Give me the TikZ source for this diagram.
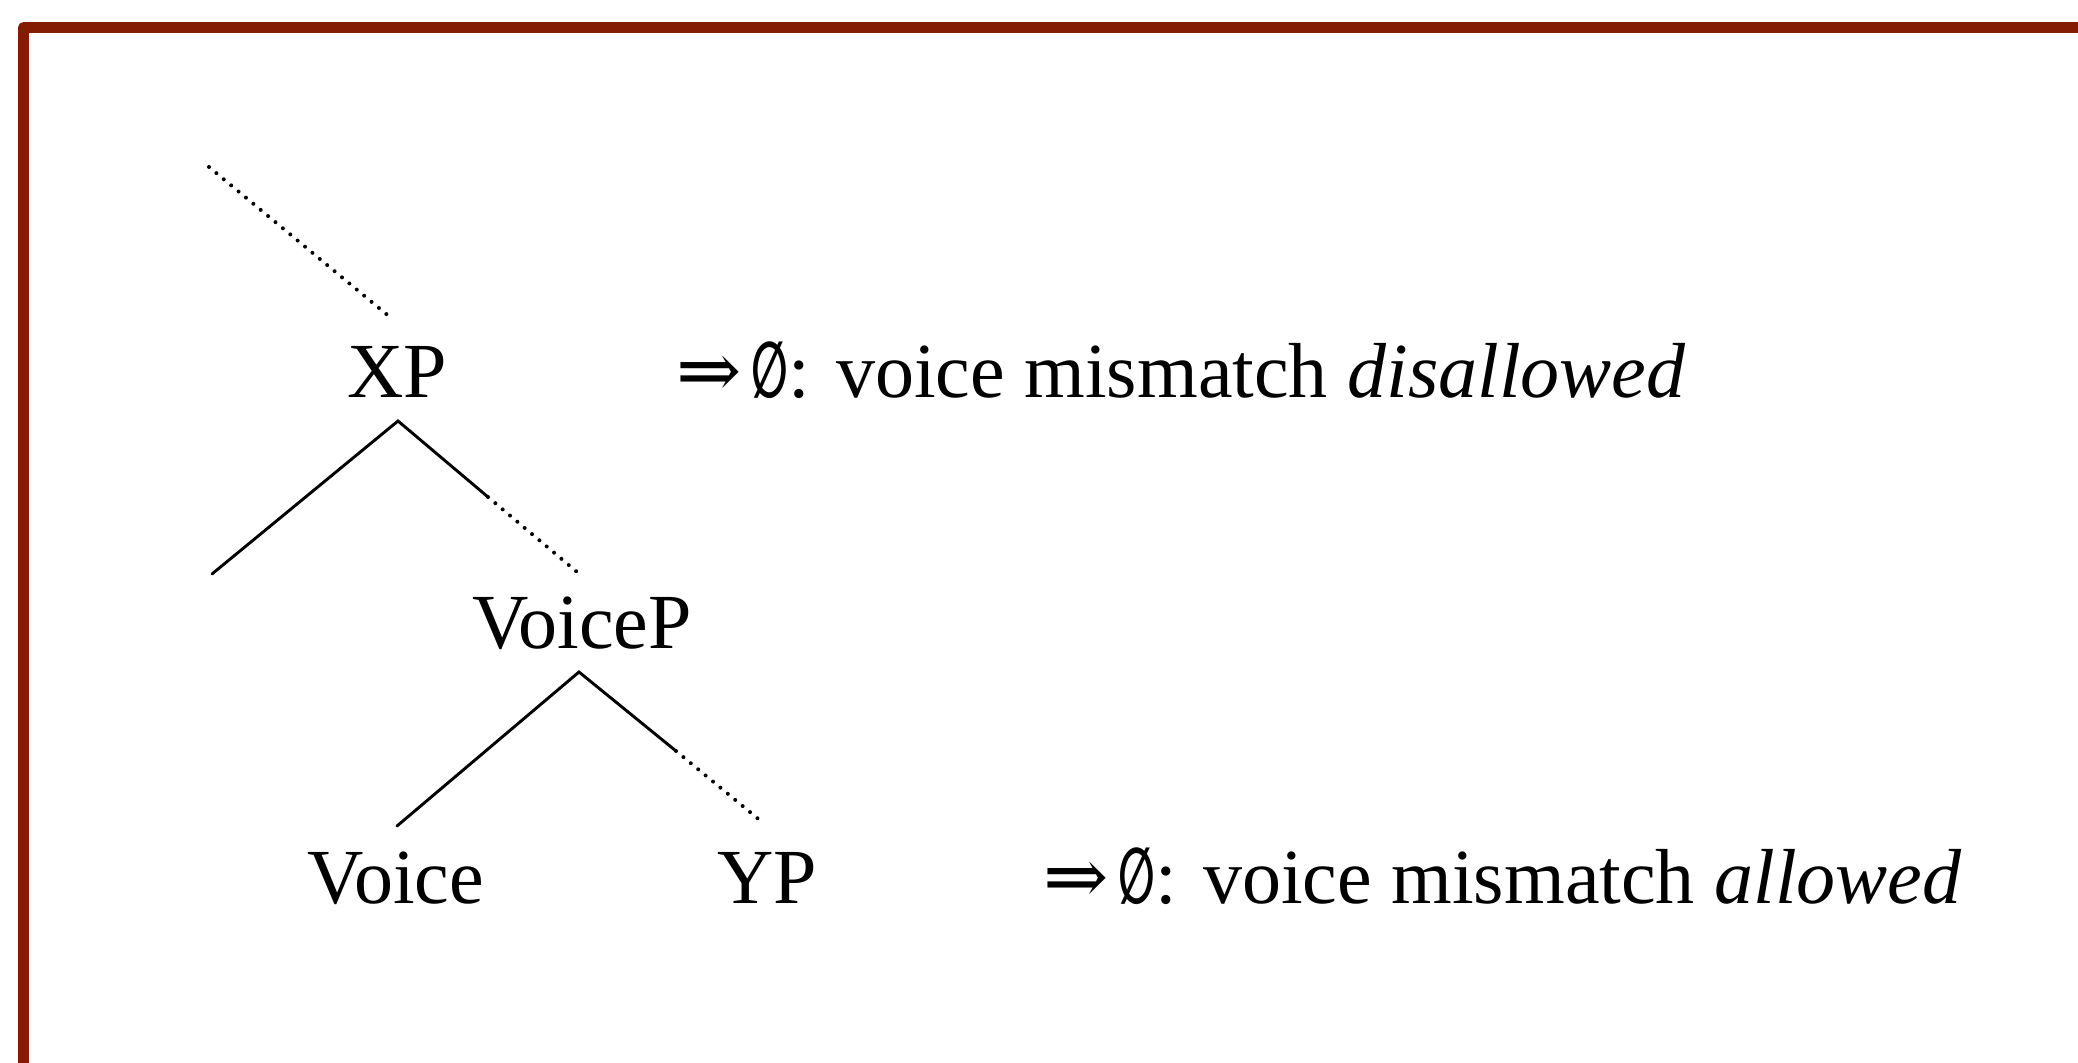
\documentclass[tikz,border=0pt]{standalone}
\usepackage{fontspec}
\usepackage{graphicx}
\setmainfont{Liberation Serif}
\newfontfamily\symfont{DejaVu Serif}
\newfontfamily\symsans{DejaVu Sans}
\newcommand{\narrowempty}{\scalebox{0.55}[1.0]{\symsans\bfseries ∅}}
\definecolor{framered}{RGB}{132,27,3}
\begin{document}
\begin{tikzpicture}[x=0.5pt,y=-0.5pt,
  lbl/.style={inner sep=0pt, anchor=base, font=\fontsize{39}{46}\selectfont},
  rmk/.style={inner sep=0pt, anchor=base west, font=\fontsize{39}{46}\selectfont},
  branch/.style={line width=1.45pt, line cap=round},
  dotbranch/.style={line width=2pt, line cap=round, dash pattern=on 0pt off 4.8pt},
  frame/.style={draw=framered, line width=5.6pt, line join=round}]
\useasboundingbox (0,0) rectangle (2078,1063);
\draw[frame] (23.5,1090) -- (23.5,27.5) -- (2100,27.5);
% nodes
\node[lbl] (XP) at (397,398) {XP};
\node[lbl] (VoiceP) at (582,649) {VoiceP};
\node[lbl] (Voice) at (396,903) {Voice};
\node[lbl] (YP) at (767,903) {YP};
\node[rmk] (r1) at (676,398) {{\symfont ⇒}\hspace{5pt}\narrowempty: voice mismatch \textit{disallowed}};
\node[rmk] (r2) at (1043,903) {{\symfont ⇒}\hspace{5pt}\narrowempty: voice mismatch \textit{allowed}};
% joints
\coordinate (top) at (209,167);
\coordinate (xpTop) at (391,318);
\coordinate (xpT) at (398,421);
\coordinate (xpL) at (212,574);
\coordinate (xpM) at (488,497);
\coordinate (xpR) at (577,572);
\coordinate (vpT) at (579,672);
\coordinate (vpL) at (397,826);
\coordinate (vpM) at (676,751);
\coordinate (vpR) at (762,822);
% branches
\draw[dotbranch] (top) -- (xpTop);
\draw[branch] (xpL) -- (xpT) -- (xpM);
\draw[dotbranch] (xpM) -- (xpR);
\draw[branch] (vpL) -- (vpT) -- (vpM);
\draw[dotbranch] (vpM) -- (vpR);
\end{tikzpicture}
\end{document}
